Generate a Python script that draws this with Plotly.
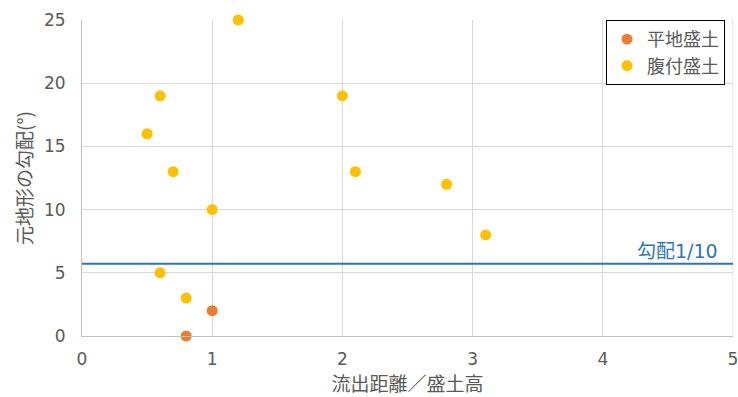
import plotly.graph_objects as go
import math

flat_x = [0.8, 1.0]
flat_y = [0, 2]
side_x = [1.2, 0.6, 0.5, 0.7, 1.0, 0.6, 0.8, 2.0, 2.1, 2.8, 3.1]
side_y = [25, 19, 16, 13, 10, 5, 3, 19, 13, 12, 8]
slope_line_x = [0, 5]
slope_deg = math.degrees(math.atan(0.1))
slope_line_y = [slope_deg, slope_deg]

FONT = "DejaVu Sans, Noto Sans CJK JP"
CJK = "Noto Sans CJK JP"
GRAY = "#595959"
GRID = "#D9D9D9"

fig = go.Figure()
fig.add_trace(go.Scatter(x=slope_line_x, y=slope_line_y, mode="lines",
                         line=dict(color="#2E75B6", width=2), showlegend=False,
                         hoverinfo="skip"))
fig.add_trace(go.Scatter(x=flat_x, y=flat_y, mode="markers", name="平地盛土",
                         legendgroup="a",
                         marker=dict(color="#ED7D31", size=11), cliponaxis=False))
fig.add_trace(go.Scatter(x=side_x, y=side_y, mode="markers", name="腹付盛土",
                         legendgroup="b",
                         marker=dict(color="#FFC000", size=11), cliponaxis=False))

fig.add_annotation(x=5, y=slope_deg, xref="x", yref="y", text="勾配1/10",
                   showarrow=False, xanchor="right", yanchor="bottom",
                   font=dict(family=FONT, size=19, color="#2E75B6"), xshift=-13, yshift=0)

# right-edge gridline at x=5
fig.add_shape(type="line", xref="x", yref="paper", x0=5, x1=5, y0=0, y1=1,
              line=dict(color=GRID, width=1), layer="below")

fig.update_layout(
    width=738, height=397,
    margin=dict(l=82, r=5, t=20, b=61, autoexpand=False),
    paper_bgcolor="white", plot_bgcolor="white",
    font=dict(family=FONT, size=16, color=GRAY),
    legend=dict(x=0.805, y=1.0, xanchor="left", yanchor="top",
                bordercolor="black", borderwidth=1, bgcolor="white",
                font=dict(family=CJK, size=18, color=GRAY),
                traceorder="grouped", tracegroupgap=0,
                itemwidth=30),
    xaxis=dict(range=[0, 5], dtick=1, showgrid=True, gridcolor=GRID,
               showline=True, linecolor="#BFBFBF", linewidth=1, zeroline=False,
               ticks="", tickfont=dict(family=FONT, size=17, color=GRAY),
               ticklabelstandoff=8, automargin=False, ticklabeloverflow="allow",
               title=dict(text="流出距離／盛土高", font=dict(family=CJK, size=19, color=GRAY), standoff=4)),
    yaxis=dict(range=[0, 25], dtick=5, showgrid=True, gridcolor=GRID,
               showline=True, linecolor="#BFBFBF", linewidth=1, zeroline=False,
               ticks="", tickfont=dict(family=FONT, size=17, color=GRAY), ticklabelstandoff=12,
               automargin=False, ticklabeloverflow="allow",
               title=dict(text="元地形の勾配(°)", font=dict(family=CJK, size=19, color=GRAY), standoff=6)),
)
fig.write_html("out.html")
